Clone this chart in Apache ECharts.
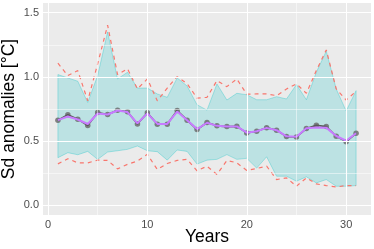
<!DOCTYPE html>
<html><head><meta charset="utf-8">
<script src="https://cdn.jsdelivr.net/npm/echarts@6/dist/echarts.min.js"></script>
<style>html,body{margin:0;padding:0;background:#fff}#c{width:374px;height:249px}</style>
</head><body><div id="c"></div>
<script>
var years = [1,2,3,4,5,6,7,8,9,10,11,12,13,14,15,16,17,18,19,20,21,22,23,24,25,26,27,28,29,30,31];
var meanVals = [0.663,0.705,0.671,0.621,0.723,0.707,0.741,0.728,0.634,0.720,0.632,0.632,0.738,0.663,0.590,0.645,0.619,0.613,0.615,0.564,0.577,0.605,0.585,0.535,0.532,0.598,0.624,0.613,0.538,0.496,0.561];
var smoothVals = [0.663,0.692,0.668,0.633,0.715,0.707,0.738,0.726,0.638,0.716,0.634,0.634,0.730,0.663,0.594,0.643,0.619,0.613,0.614,0.566,0.577,0.603,0.585,0.537,0.534,0.600,0.606,0.605,0.540,0.503,0.561];
var ribbonUpper = [1.018,0.992,0.966,0.801,1.010,1.350,0.984,1.036,0.913,0.913,0.867,0.841,0.992,0.929,0.783,0.741,0.945,0.820,0.872,0.861,0.822,0.822,0.846,0.828,0.940,0.822,1.036,1.200,0.906,0.735,0.893];
var ribbonLower = [0.371,0.410,0.394,0.420,0.358,0.415,0.425,0.436,0.462,0.425,0.418,0.352,0.431,0.420,0.321,0.352,0.358,0.395,0.358,0.366,0.290,0.378,0.227,0.227,0.188,0.222,0.175,0.201,0.149,0.149,0.154];
var redUpper = [1.107,1.010,1.049,0.814,1.102,1.402,1.018,1.063,0.906,0.984,0.814,0.913,1.002,0.947,0.835,0.841,0.971,0.924,0.984,0.865,0.867,0.867,0.854,0.906,0.945,0.872,1.049,1.210,0.906,0.820,0.887];
var redLower = [0.323,0.363,0.331,0.331,0.352,0.350,0.284,0.319,0.345,0.397,0.279,0.326,0.350,0.358,0.269,0.305,0.240,0.350,0.331,0.272,0.287,0.305,0.201,0.214,0.149,0.214,0.167,0.154,0.143,0.154,0.154];
var xTicks = [0,10,20,30];
var xMinor = [5,15,25];
var yTicks = [0,0.5,1.0,1.5];
var yMinor = [0.25,0.75,1.25];

function pairs(v){ return years.map(function(x,i){ return [x, v[i]]; }); }
var gridLines = [];
xTicks.forEach(function(v){ gridLines.push({xAxis:v, lineStyle:{width:1.1}}); });
xMinor.forEach(function(v){ gridLines.push({xAxis:v, lineStyle:{width:0.5}}); });
yTicks.forEach(function(v){ gridLines.push({yAxis:v, lineStyle:{width:1.1}}); });
yMinor.forEach(function(v){ gridLines.push({yAxis:v, lineStyle:{width:0.5}}); });

var chart = echarts.init(document.getElementById('c'), null, {renderer:'canvas'});
chart.setOption({
  animation:false,
  grid:{left:43,right:3,top:3,bottom:34,show:true,backgroundColor:'#EBEBEB',borderWidth:0,
        containLabel:false,outerBoundsMode:'none'},
  xAxis:{type:'value',min:-0.5,max:32.5,
    name:'Years',nameLocation:'middle',nameGap:13,nameMoveOverlap:false,
    nameTextStyle:{fontFamily:'Liberation Sans',fontSize:17.5,color:'#000',verticalAlign:'top'},
    axisLine:{show:false},
    axisTick:{show:true,customValues:xTicks,length:3,lineStyle:{color:'#333'}},
    axisLabel:{customValues:xTicks,fontFamily:'Liberation Sans',fontSize:11,color:'#4D4D4D',margin:4},
    splitLine:{show:false}},
  yAxis:{type:'value',min:-0.075,max:1.575,
    name:'Sd anomalies [°C]',nameLocation:'middle',nameGap:25,nameMoveOverlap:false,
    nameTextStyle:{fontFamily:'Liberation Sans',fontSize:17.5,color:'#000'},
    axisLine:{show:false},
    axisTick:{show:true,customValues:yTicks,length:3,lineStyle:{color:'#333'}},
    axisLabel:{customValues:yTicks,fontFamily:'Liberation Sans',fontSize:11,color:'#4D4D4D',margin:4,
      formatter:function(v){return v.toFixed(1);}},
    splitLine:{show:false}},
  series:[
    {type:'line',data:[],silent:true,
     markLine:{silent:true,symbol:['none','none'],label:{show:false},
       lineStyle:{color:'#FFFFFF',type:'solid'},emphasis:{disabled:true},data:gridLines}},
    {type:'custom',silent:true,data:[[0,0]],
     renderItem:function(params,api){
       var pts=[];
       for(var i=0;i<years.length;i++) pts.push(api.coord([years[i],ribbonUpper[i]]));
       for(var j=years.length-1;j>=0;j--) pts.push(api.coord([years[j],ribbonLower[j]]));
       return {type:'polygon',shape:{points:pts},
         style:{fill:'rgba(0,191,196,0.2)',stroke:'rgba(0,191,196,0.3)',lineWidth:1}};
     }},
    {type:'line',data:pairs(redUpper),symbol:'none',silent:true,
     lineStyle:{color:'#F8766D',width:1.2,type:[4,4]}},
    {type:'line',data:pairs(redLower),symbol:'none',silent:true,
     lineStyle:{color:'#F8766D',width:1.2,type:[4,4]}},
    {type:'line',data:pairs(meanVals),symbol:'none',silent:true,
     lineStyle:{color:'#595959',width:1.6}},
    {type:'line',data:pairs(smoothVals),symbol:'none',silent:true,
     lineStyle:{color:'#C77CFF',width:2}},
    {type:'scatter',data:pairs(meanVals),symbol:'circle',symbolSize:5.5,silent:true,
     itemStyle:{color:'#666666'}}
  ]
});
</script></body></html>
